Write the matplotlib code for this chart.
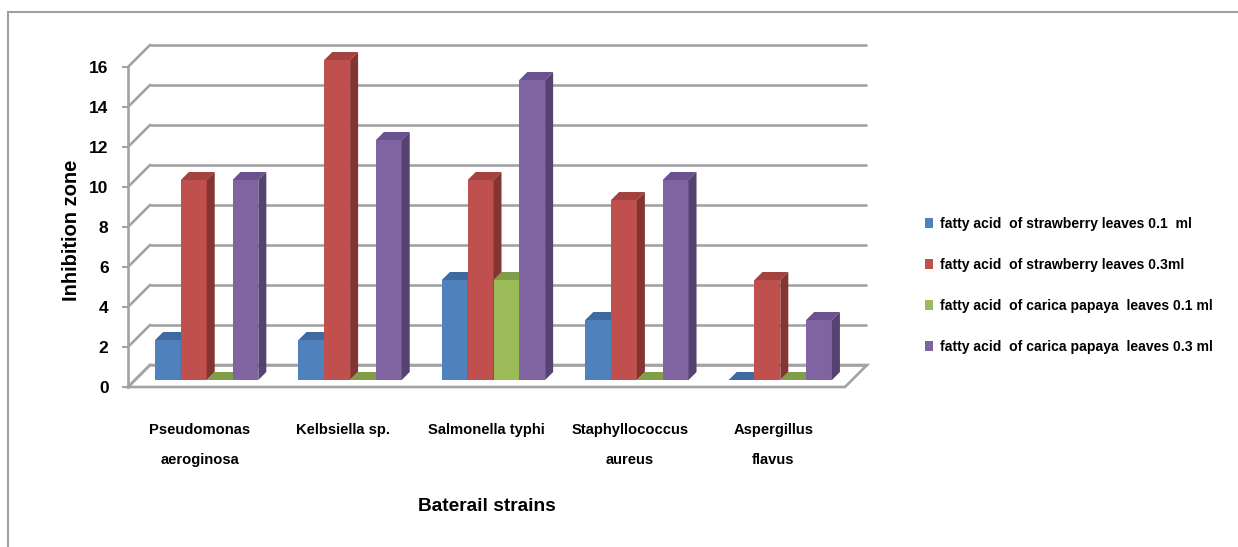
import matplotlib
matplotlib.use("Agg")
import matplotlib.pyplot as plt
from matplotlib import font_manager
from matplotlib.patches import Polygon, Patch, Rectangle

# ---- data -------------------------------------------------------------
strains = ["Pseudomonas\naeroginosa", "Kelbsiella sp.", "Salmonella typhi",
           "Staphyllococcus\naureus", "Aspergillus\nflavus"]
series_labels = ["fatty acid  of strawberry leaves 0.1  ml",
                 "fatty acid  of strawberry leaves 0.3ml",
                 "fatty acid  of carica papaya  leaves 0.1 ml",
                 "fatty acid  of carica papaya  leaves 0.3 ml"]
strawberry_01 = [2, 2, 5, 3, 0]
strawberry_03 = [10, 16, 10, 9, 5]
papaya_01 = [0, 0, 5, 0, 0]
papaya_03 = [10, 12, 15, 10, 3]
y_ticks = [0, 2, 4, 6, 8, 10, 12, 14, 16]

series = [strawberry_01, strawberry_03, papaya_01, papaya_03]

# ---- style ------------------------------------------------------------
front_colors = ["#4F81BD", "#C0504D", "#9BBB59", "#8064A2"]
top_colors = ["#3E6AA0", "#A3423F", "#7F9E47", "#6A5290"]
side_colors = ["#385D8A", "#843532", "#6E8A3C", "#554270"]
grid_color = "#a3a3a3"

installed = {f.name for f in font_manager.fontManager.ttflist}
narrow = "Liberation Sans Narrow" in installed
if narrow:
    txt_family = ["Liberation Sans Narrow", "Liberation Sans", "DejaVu Sans"]
    sz_tick, sz_cat, sz_leg, sz_xlab = 13.5, 12.8, 12.3, 16.5
else:
    txt_family = ["Liberation Sans", "DejaVu Sans"]
    sz_tick, sz_cat, sz_leg, sz_xlab = 12.5, 10.6, 10.1, 13.8

W, H = 1238, 547
fig = plt.figure(figsize=(W / 100, H / 100), dpi=100)
fig.patch.set_facecolor("white")

# chart frame (left and top edges)
fig.add_artist(Rectangle((8 / W, -0.2), 1.2, 1.2 - 12 / H,
                         transform=fig.transFigure, fill=False,
                         ec="#a0a0a0", lw=1.5))

ax = fig.add_axes([128 / W, (H - 387) / H, 717 / W, 320 / H])
ax.set_xlim(-0.5, len(strains) - 0.5)
ax.set_ylim(0, y_ticks[-1])
ax.patch.set_alpha(0)

# pixel -> data conversions for the depth direction
p0 = ax.transData.transform((0, 0))
p1 = ax.transData.transform((1, 1))
sx, sy = p1[0] - p0[0], p1[1] - p0[1]
wall_depth = 22
Dx, Dy = wall_depth / sx, wall_depth / sy
fx, fy = 7 / sx, 7 / sy      # bar front plane
bx, by = 8 / sx, 8 / sy      # bar thickness

x_lo, x_hi = -0.5, len(strains) - 0.5

# floor
ax.add_patch(Polygon([(x_lo, 0), (x_hi, 0), (x_hi + Dx, Dy), (x_lo + Dx, Dy)],
                     closed=True, fc="white", ec=grid_color, lw=1.9,
                     zorder=1, clip_on=False))
# back-wall gridlines and side-wall diagonals
for t in y_ticks:
    ax.plot([x_lo + Dx, x_hi + Dx], [t + Dy, t + Dy], color=grid_color,
            lw=1.9, zorder=1.1, clip_on=False, solid_capstyle="butt")
    ax.plot([x_lo, x_lo + Dx], [t, t + Dy], color=grid_color,
            lw=1.9, zorder=1.1, clip_on=False)

# 3-D looking bars
n = len(series)
bar_w = 0.18
group_w = n * bar_w
z = 3.0
for i in range(len(strains)):
    for s, vals in enumerate(series):
        v = vals[i]
        x0 = i - group_w / 2 + s * bar_w + fx
        x1 = x0 + bar_w
        y0 = fy
        y1 = fy + v
        ax.bar(x0, v, width=bar_w, bottom=y0, align="edge",
               color=front_colors[s], lw=0, zorder=z, clip_on=False)
        ax.add_patch(Polygon([(x0, y1), (x1, y1), (x1 + bx, y1 + by), (x0 + bx, y1 + by)],
                             closed=True, fc=top_colors[s], ec="none",
                             zorder=z, clip_on=False))
        ax.add_patch(Polygon([(x1, y0), (x1, y1), (x1 + bx, y1 + by), (x1 + bx, y0 + by)],
                             closed=True, fc=side_colors[s], ec="none",
                             zorder=z, clip_on=False))
        z += 0.01

# axes
for name in ("top", "right", "bottom"):
    ax.spines[name].set_visible(False)
ax.spines["left"].set_color(grid_color)
ax.spines["left"].set_linewidth(1.9)
ax.spines["left"].set_zorder(1.2)

ax.set_yticks(y_ticks)
ax.set_yticklabels([str(t) for t in y_ticks], fontfamily=txt_family,
                   fontweight="bold", fontsize=sz_tick)
ax.tick_params(axis="y", length=4, width=1.5, color=grid_color, pad=10)

ax.set_xticks(range(len(strains)))
ax.set_xticklabels(strains, fontfamily=txt_family, fontweight="bold",
                   fontsize=sz_cat, linespacing=2.45)
ax.tick_params(axis="x", length=0, pad=26)

ax.set_ylabel("Inhibition zone", fontfamily=["Liberation Sans", "DejaVu Sans"],
              fontweight="bold", fontsize=14.5)
ax.yaxis.set_label_coords(-0.066, 0.49)
ax.set_xlabel("Baterail strains", fontfamily=txt_family, fontweight="bold",
              fontsize=sz_xlab)
ax.xaxis.set_label_coords(0.5, -0.347)

handles = [Patch(facecolor=c, edgecolor="none") for c in front_colors]
fig.legend(handles, series_labels, loc="upper left",
           bbox_to_anchor=(925 / W, 1 - 217 / H), frameon=False,
           borderaxespad=0, borderpad=0,
           handlelength=0.6, handleheight=0.65, handletextpad=0.45,
           labelspacing=1.92,
           prop={"family": txt_family, "weight": "bold", "size": sz_leg})

fig.savefig("out.png", dpi=100)
